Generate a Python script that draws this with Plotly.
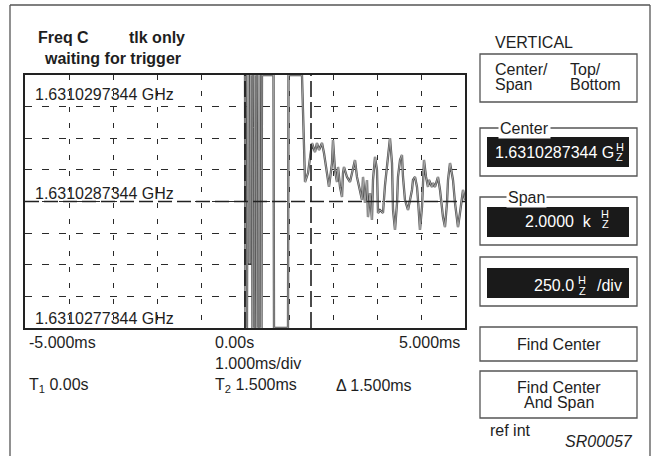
import plotly.graph_objects as go

# ---------------- data ----------------
# time axis in ms, frequency offset from center in Hz
time_ms = [
    0.000, 0.011, 0.045, 0.057, 0.080, 0.091, 0.114, 0.125, 0.159, 0.170,
    0.205, 0.216, 0.250, 0.261, 0.295, 0.307, 0.330, 0.341, 0.375, 0.386,
    0.648, 0.659, 0.977, 0.989, 1.295,
    1.318, 1.364, 1.432, 1.523, 1.591, 1.636, 1.682, 1.750, 1.795, 1.864,
    1.909, 1.977, 2.000, 2.045, 2.091, 2.114, 2.159, 2.205, 2.227, 2.250,
    2.318, 2.386, 2.455, 2.500, 2.545, 2.591, 2.659, 2.682, 2.727, 2.773,
    2.795, 2.841, 2.886, 2.909, 2.955, 3.000, 3.023, 3.068, 3.136, 3.182,
    3.250, 3.295, 3.341, 3.364, 3.409, 3.455, 3.477, 3.523, 3.568, 3.591,
    3.636, 3.705, 3.795, 3.818, 3.864, 3.909, 3.932, 3.977, 4.023, 4.045,
    4.068, 4.114, 4.159, 4.182, 4.250, 4.273, 4.318, 4.386, 4.432, 4.500,
    4.545, 4.591, 4.614, 4.659, 4.727, 4.773, 4.841, 4.886, 4.932, 4.955,
    5.000,
]
freq_hz = [
    1000, -1000, -1000, 1000, 1000, -486, -486, 1000, 1000, -1000,
    -1000, 1000, 1000, -1000, -1000, 1000, 1000, -1000, -1000, 1000,
    1000, -1000, -1000, 1000, 1000,
    644, 154, 225, 462, 391, 462, 407, 462, 383, 194,
    115, 304, 486, 249, 154, 273, 115, 36, 225, 273,
    194, 154, 249, 328, 194, 115, 12, 194, -12, 170,
    -123, 67, -146, 170, 352, 249, -91, -67, -91, 130,
    328, 502, 304, -67, -225, -12, 194, 328, 368, 194,
    12, -67, 91, 170, 194, 115, 12, -225, -43, 249,
    328, 194, 115, 170, 115, 146, 115, 194, 91, -123,
    -202, -12, 170, 304, 170, -12, -202, -91, 36, 91,
    12,
]

cursor_ms = [0.0, 1.5]

x_range_ms = [-5.0, 5.0]
y_range_hz = [-1000, 1000]
x_div_ms = 1.0
y_div_hz = 250

y_tick_labels = ["1.6310297344 GHz", "1.6310287344 GHz", "1.6310277344 GHz"]
x_tick_labels = ["-5.000ms", "0.00s", "5.000ms"]

# ---------------- layout geometry (pixels) ----------------
W, H = 654, 456
PL, PR, PT, PB = 25, 465, 75, 328


def px(x):
    return (x - PL) / (PR - PL)


def py(y):
    return (PB - y) / (PB - PT)


FONT = "Liberation Sans, Arial, Helvetica, sans-serif"
TXT = "#1e1e1e"

fig = go.Figure()

fig.add_trace(go.Scatter(x=time_ms, y=freq_hz, mode="lines",
                         line=dict(color="#505050", width=2.3),
                         hoverinfo="skip", showlegend=False))
fig.add_trace(go.Scatter(x=time_ms, y=freq_hz, mode="lines",
                         line=dict(color="#c4c4c4", width=0.7),
                         hoverinfo="skip", showlegend=False))

shapes = []
annotations = []


def rect(x0, y0, x1, y1, line="#555", width=1.3, fill=None):
    shapes.append(dict(type="rect", xref="paper", yref="paper",
                       x0=px(x0), x1=px(x1), y0=py(y0), y1=py(y1),
                       line=dict(color=line, width=width),
                       fillcolor=fill if fill else "rgba(0,0,0,0)",
                       layer="above"))


def line(x0, y0, x1, y1, color="#555", width=1.3):
    shapes.append(dict(type="line", xref="paper", yref="paper",
                       x0=px(x0), x1=px(x1), y0=py(y0), y1=py(y1),
                       line=dict(color=color, width=width), layer="above"))


def txt(x, y, s, size=16, anchor="left", color=TXT, bg=None):
    annotations.append(dict(xref="paper", yref="paper", x=px(x), y=py(y),
                            text=s, showarrow=False, xanchor=anchor,
                            yanchor="middle",
                            font=dict(family=FONT, size=size, color=color),
                            bgcolor=bg if bg else "rgba(0,0,0,0)",
                            borderpad=1))


# center reference line and cursors (drawn with data coords)
shapes.append(dict(type="line", xref="paper", yref="y", x0=0, x1=1,
                   y0=0, y1=0, line=dict(color="#222", width=1.3, dash="14px,5px"),
                   layer="above"))
for c in cursor_ms:
    shapes.append(dict(type="line", xref="x", yref="paper", x0=c, x1=c,
                       y0=0, y1=1, line=dict(color="#111", width=1.5, dash="16px,5px"),
                       layer="above"))

# outer frame
line(10, 5, 650, 5)
line(10, 5, 10, 470)
line(650, 5, 650, 470)

# header text
txt(36, 38, "<b>Freq C</b>")
txt(127, 38, "<b>tlk only</b>")
txt(42, 59, "<b>waiting for trigger</b>")

# y labels inside plot
txt(33, 94, y_tick_labels[0])
txt(33, 193, y_tick_labels[1])
txt(33, 318, y_tick_labels[2])

# x labels
txt(27, 342, x_tick_labels[0])
txt(213, 342, x_tick_labels[1])
txt(462, 342, x_tick_labels[2], anchor="right")
txt(213, 363, "1.000ms/div")
txt(27, 385, "T<sub>1</sub> 0.00s")
txt(213, 385, "T<sub>2</sub> 1.500ms")
txt(334, 385, "\u0394 1.500ms")

# right panel
txt(493, 42, "VERTICAL")
rect(480, 54, 637, 102)
txt(493, 70, "Center/")
txt(493, 84, "Span")
txt(568, 70, "Top/")
txt(568, 84, "Bottom")

# Center group
rect(480, 128, 637, 176)
rect(487, 137, 629, 167, line="#1a1a1a", width=0, fill="#1a1a1a")
txt(524, 128, "Center", anchor="center", bg="white")
txt(493, 152, "1.6310287344 G", color="white")
txt(619.5, 147, "H", size=11, anchor="center", color="white")
txt(619.5, 157, "Z", size=11, anchor="center", color="white")

# Span group
rect(480, 197, 637, 245)
rect(487, 207, 629, 237, line="#1a1a1a", width=0, fill="#1a1a1a")
txt(526, 197, "Span", anchor="center", bg="white")
txt(594, 221, "2.0000  k", anchor="right", color="white")
txt(605, 214, "H", size=11, anchor="center", color="white")
txt(605, 224, "Z", size=11, anchor="center", color="white")

# per-div group
rect(480, 257, 637, 306)
rect(487, 268, 629, 298, line="#1a1a1a", width=0, fill="#1a1a1a")
txt(576, 285, "250.0", anchor="right", color="white")
txt(582, 280, "H", size=11, anchor="center", color="white")
txt(582, 291, "Z", size=11, anchor="center", color="white")
txt(595, 285, "/div", color="white")

# buttons
rect(480, 327, 637, 361)
txt(558.5, 344, "Find Center", anchor="center")
rect(480, 371, 637, 418)
txt(558.5, 387, "Find Center", anchor="center")
txt(558.5, 402, "And Span", anchor="center")

txt(488, 430, "ref int")
txt(635, 441, "<i>SR00057</i>", anchor="right")

fig.update_layout(
    width=W, height=H,
    margin=dict(l=PL, r=W - PR, t=PT, b=H - PB, pad=0),
    paper_bgcolor="white", plot_bgcolor="white",
    showlegend=False,
    shapes=shapes, annotations=annotations,
    xaxis=dict(range=x_range_ms, dtick=x_div_ms, tick0=0, showticklabels=False,
               ticks="", showgrid=True, gridcolor="#2a2a2a", gridwidth=1.1,
               griddash="5px,11px", zeroline=False, showline=True, mirror=True,
               linecolor="#222", linewidth=1.6, fixedrange=True),
    yaxis=dict(range=y_range_hz, dtick=y_div_hz, tick0=0, showticklabels=False,
               ticks="", showgrid=True, gridcolor="#2a2a2a", gridwidth=1.1,
               griddash="7px,10px", zeroline=False, showline=True, mirror=True,
               linecolor="#222", linewidth=1.6, fixedrange=True),
)

fig.write_html("out.html", config={"displayModeBar": False})
